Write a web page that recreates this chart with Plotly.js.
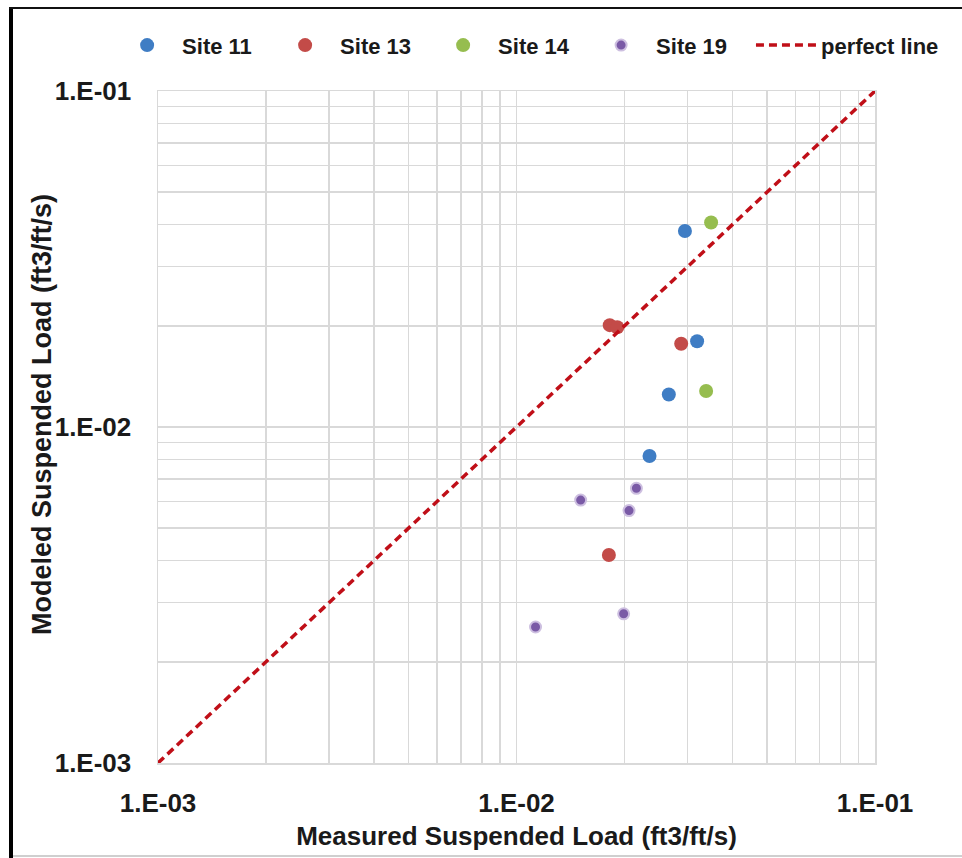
<!DOCTYPE html>
<html>
<head>
<meta charset="utf-8">
<script src="https://cdn.plot.ly/plotly-3.0.1.min.js"></script>
<style>
html, body { margin: 0; padding: 0; background: #ffffff; }
#wrap { position: relative; width: 962px; height: 858px; overflow: hidden; }
#chart { position: absolute; left: 0; top: 0; width: 962px; height: 858px; }
.bl { position: absolute; left: 9px; top: 7px; width: 4px; height: 851px; background: #000; pointer-events: none; }
.bt { position: absolute; left: 9px; top: 7px; width: 953px; height: 2px; background: #111; pointer-events: none; }
.bb { position: absolute; left: 13px; top: 855px; width: 949px; height: 2px; background: #cfcfcf; pointer-events: none; }
</style>
</head>
<body>
<div id="wrap">
  <div id="chart"></div>
  <div class="bl"></div><div class="bt"></div><div class="bb"></div>
</div>
<script>
// Data
const site11X = [0.0295, 0.0319, 0.0266, 0.0235];
const site11Y = [0.0383, 0.0180, 0.0125, 0.0082];

const site13X = [0.0182, 0.0191, 0.0288, 0.0181];
const site13Y = [0.0201, 0.0198, 0.0177, 0.00416];

const site14X = [0.0349, 0.0338];
const site14Y = [0.0406, 0.0128];

const site19X = [0.0216, 0.0151, 0.0206, 0.0199, 0.0113];
const site19Y = [0.00657, 0.00606, 0.00564, 0.00278, 0.00254];

const perfectX = [0.001, 0.1];
const perfectY = [0.001, 0.1];

const tickVals = [0.001, 0.01, 0.1];
const tickText = ['1.E-03', '1.E-02', '1.E-01'];

const FONT = 'Liberation Sans, Arial, sans-serif';
const legendFont = { family: FONT, size: 22, color: '#1a1a1a', weight: 'bold' };

const traces = [
  { x: site11X, y: site11Y, name: 'Site 11', type: 'scatter', mode: 'markers',
    marker: { color: '#3F7DC4', size: 14, line: { width: 0 } } },
  { x: site13X, y: site13Y, name: 'Site 13', type: 'scatter', mode: 'markers',
    marker: { color: '#C34B48', size: 14, line: { width: 0 } } },
  { x: site14X, y: site14Y, name: 'Site 14', type: 'scatter', mode: 'markers',
    marker: { color: '#96BD4F', size: 14, line: { width: 0 } } },
  { x: site19X, y: site19Y, name: 'Site 19', type: 'scatter', mode: 'markers',
    marker: { color: '#7A5AA6', size: 11, line: { width: 2, color: '#CDBFE0' } } },
  { x: perfectX, y: perfectY, name: 'perfect line', type: 'scatter', mode: 'lines', legend: 'legend2',
    line: { color: '#C00F18', width: 3.5, dash: '8px,5px' } }
];

const axisCommon = {
  type: 'log',
  range: [-3, -1],
  tickmode: 'array',
  tickvals: tickVals,
  ticktext: tickText,
  ticks: '',
  showgrid: true,
  gridcolor: '#D9D9D9',
  gridwidth: 1.5,
  showline: true,
  linecolor: '#D9D9D9',
  linewidth: 1.5,
  mirror: true,
  zeroline: false,
  minor: { dtick: 'D1', showgrid: true, gridcolor: '#D9D9D9', gridwidth: 1.5, ticks: '' },
  tickfont: { family: FONT, size: 26, color: '#1a1a1a', weight: 'bold' },
  ticklabelstandoff: 16
};

const layout = {
  width: 962,
  height: 858,
  paper_bgcolor: '#ffffff',
  plot_bgcolor: '#ffffff',
  margin: { l: 158, r: 87, t: 91, b: 95 },
  showlegend: true,
  legend: {
    orientation: 'h',
    x: -0.064, xanchor: 'left',
    y: 1.068, yanchor: 'middle',
    itemwidth: 60,
    entrywidth: 83,
    entrywidthmode: 'pixels',
    font: legendFont,
    bgcolor: 'rgba(0,0,0,0)',
    borderwidth: 0,
    tracegroupgap: 0
  },
  legend2: {
    orientation: 'h',
    x: 0.827, xanchor: 'left',
    y: 1.068, yanchor: 'middle',
    itemwidth: 60,
    font: legendFont,
    bgcolor: 'rgba(0,0,0,0)',
    borderwidth: 0
  },
  xaxis: Object.assign({}, axisCommon, {
    title: { text: 'Measured Suspended Load (ft3/ft/s)', font: { family: FONT, size: 26, color: '#1a1a1a', weight: 'bold' }, standoff: 10 }
  }),
  yaxis: Object.assign({}, axisCommon, {
    ticklabelstandoff: 20,
    title: { text: '' }
  }),
  annotations: [
    { text: 'Modeled Suspended Load (ft3/ft/s)', xref: 'paper', yref: 'paper',
      x: -0.162, y: 0.519, xanchor: 'center', yanchor: 'middle', textangle: -90, showarrow: false,
      font: { family: FONT, size: 27, color: '#1a1a1a', weight: 'bold' } }
  ]
};

Plotly.newPlot('chart', traces, layout, { displayModeBar: false, staticPlot: true });
</script>
</body>
</html>
